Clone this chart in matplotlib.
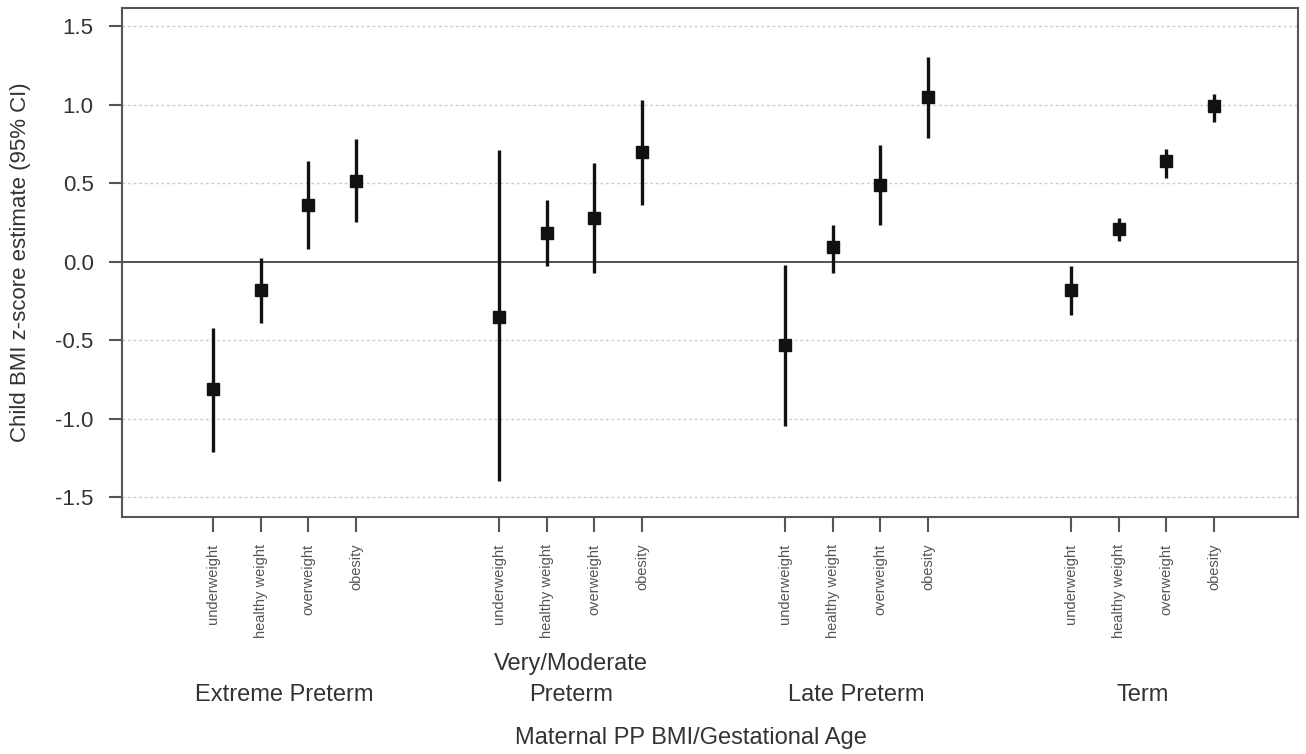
import numpy as np
import matplotlib
matplotlib.use("Agg")
import matplotlib.pyplot as plt

plt.rcParams['font.family'] = ['Liberation Sans', 'DejaVu Sans']

groups = ["Extreme Preterm", "Very/Moderate\nPreterm", "Late Preterm", "Term"]
bmi_cats = ["underweight", "healthy weight", "overweight", "obesity"]

# estimates and 95% CI per group (underweight, healthy, overweight, obesity)
est = [[-0.81, -0.18, 0.36, 0.51],
       [-0.35, 0.18, 0.28, 0.70],
       [-0.53, 0.09, 0.49, 1.05],
       [-0.18, 0.21, 0.64, 0.99]]
lo = [[-1.21, -0.39, 0.08, 0.25],
      [-1.40, -0.03, -0.07, 0.36],
      [-1.05, -0.07, 0.23, 0.79],
      [-0.34, 0.13, 0.53, 0.89]]
hi = [[-0.42, 0.02, 0.64, 0.78],
      [0.71, 0.39, 0.63, 1.03],
      [-0.02, 0.23, 0.74, 1.30],
      [-0.03, 0.28, 0.72, 1.07]]

yticks = [-1.5, -1.0, -0.5, 0.0, 0.5, 1.0, 1.5]

txt = "#333333"
fig = plt.figure(figsize=(13.06, 7.54), dpi=100)
ax = fig.add_axes([0.0934, 0.3143, 0.9005, 0.6751])

xpos = []
for g in range(len(groups)):
    x = np.arange(4) + 1 + 6 * g
    xpos.extend(x)
    e = np.array(est[g])
    l = np.array(lo[g])
    h = np.array(hi[g])
    ax.vlines(x, l, h, color="#111111", lw=2.4, zorder=3)
    ax.plot(x, e, "s", color="#111111", ms=8.5, zorder=4)
    ax.text(x.mean(), -0.372, groups[g], transform=ax.get_xaxis_transform(),
            ha="center", va="bottom", fontsize=17, color=txt, linespacing=1.55)

for yv in yticks:
    if yv != 0:
        ax.axhline(yv, color="#cccccc", lw=1, ls=(0, (2, 2)), zorder=1)
ax.axhline(0, color="#444444", lw=1.3, zorder=2)

ax.set_xlim(-0.91, 23.76)
ax.set_ylim(-1.627, 1.615)
ax.set_yticks(yticks)
ax.set_yticklabels([f"{v:.1f}" for v in yticks])
ax.set_xticks(xpos)
ax.set_xticklabels(bmi_cats * 4, rotation=90, fontsize=10.5, color=txt)
ax.tick_params(axis="y", labelsize=16, colors="#555555", labelcolor=txt,
               length=9.5, width=1.5, pad=11)
ax.tick_params(axis="x", colors="#555555", length=11, width=1.5, pad=8)
for s in ax.spines.values():
    s.set_color("#555555")
    s.set_linewidth(1.5)

ax.set_ylabel("Child BMI z-score estimate (95% CI)", fontsize=16, color=txt)
ax.yaxis.set_label_coords(-0.0774, 0.5)
fig.text(691 / 1306, 1 - 738 / 754, "Maternal PP BMI/Gestational Age",
         ha="center", va="center", fontsize=17, color=txt)

fig.savefig("out.png", dpi=100)
